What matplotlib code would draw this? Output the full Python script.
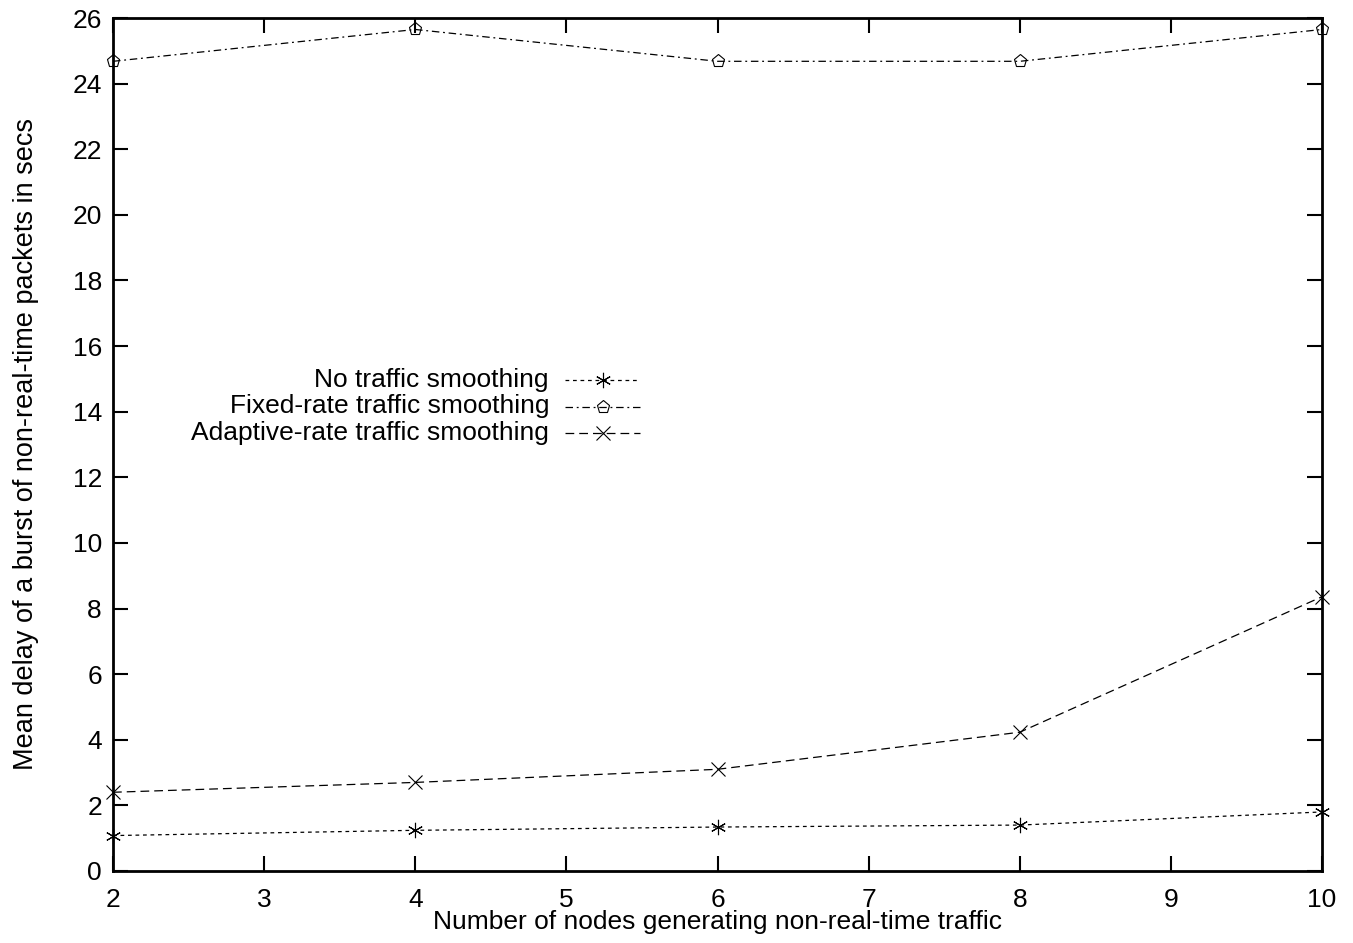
import matplotlib
matplotlib.use("Agg")
import matplotlib.pyplot as plt
from matplotlib.lines import Line2D

plt.rcParams['font.family'] = ['Liberation Sans', 'DejaVu Sans']

# data
nodes = [2, 4, 6, 8, 10]
no_smoothing = [1.08, 1.24, 1.34, 1.40, 1.80]
fixed_rate = [24.68, 25.65, 24.68, 24.68, 25.65]
adaptive_rate = [2.40, 2.70, 3.10, 4.23, 8.36]

labels = ["No traffic smoothing", "Fixed-rate traffic smoothing",
          "Adaptive-rate traffic smoothing"]
styles = [
    dict(marker=(6, 2, 0), dashes=(3, 3), ms=11),
    dict(marker='p', dashes=(6, 3, 1.5, 3), ms=9.5, mfc='none'),
    dict(marker='x', dashes=(7, 4), ms=10),
]

fig = plt.figure(figsize=(13.53, 9.43), dpi=100)
ax = fig.add_axes([113 / 1353, 1 - 871 / 943, (1322 - 113) / 1353, (871 - 18) / 943])

for y, st in zip([no_smoothing, fixed_rate, adaptive_rate], styles):
    ax.plot(nodes, y, color='black', lw=0.9, mec='black', mew=0.8,
            clip_on=False, **st)

ax.set_xlim(2, 10)
ax.set_ylim(0, 26)
ax.set_xticks(range(2, 11))
ax.set_yticks(range(0, 27, 2))
ax.tick_params(direction='in', length=11, width=1.5, top=True, right=True,
               labelsize=19, pad=8)
ax.tick_params(axis='x', pad=12)
for s in ax.spines.values():
    s.set_linewidth(2)

ax.set_xlabel("Number of nodes generating non-real-time traffic", fontsize=19, labelpad=-1)
ax.set_ylabel("Mean delay of a burst of non-real-time packets in secs", fontsize=19.5, labelpad=24)

# gnuplot-style key: right-aligned text, sample on the right
for i, (lab, st) in enumerate(zip(labels, styles)):
    yk = 1 - (380 + i * 26.5 - 18) / 853
    ax.text((549 - 113) / 1209, yk, lab, transform=ax.transAxes, ha='right',
            va='center', fontsize=19)
    ax.add_line(Line2D([(565 - 113) / 1209, (640 - 113) / 1209], [yk, yk],
                transform=ax.transAxes, color='black', lw=0.9,
                dashes=st['dashes']))
    ax.add_line(Line2D([(603 - 113) / 1209], [yk], transform=ax.transAxes,
                color='black', marker=st['marker'], ms=st['ms'],
                mfc=st.get('mfc', 'black'), mec='black', mew=0.8, ls='none'))

fig.savefig("out.png", dpi=100)
